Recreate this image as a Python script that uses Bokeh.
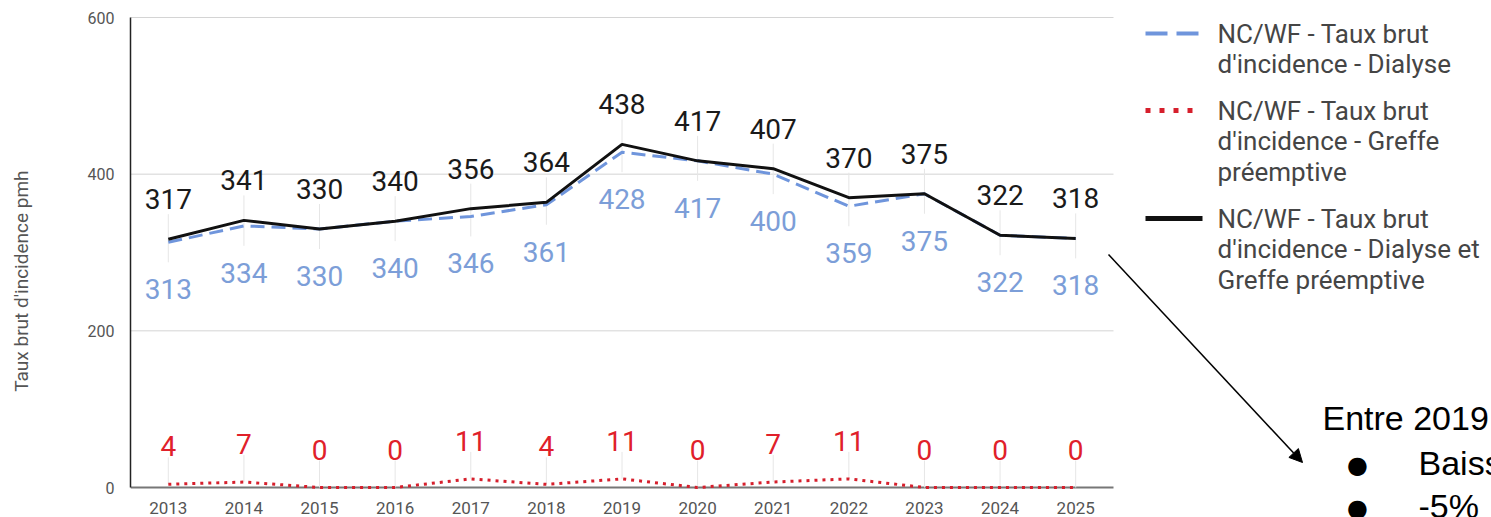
from bokeh.plotting import figure
from bokeh.models import Range1d, FixedTicker, Label, Arrow, NormalHead, LinearAxis
from bokeh.core.properties import value
from bokeh.embed import file_html
from bokeh.resources import INLINE

# ---------------- data ----------------
years = list(range(2013, 2026))
dialyse = [313, 334, 330, 340, 346, 361, 428, 417, 400, 359, 375, 322, 318]
greffe = [4, 7, 0, 0, 11, 4, 11, 0, 7, 11, 0, 0, 0]
total = [317, 341, 330, 340, 356, 364, 438, 417, 407, 370, 375, 322, 318]
y_ticks = [0, 200, 400, 600]
y_title = "Taux brut d'incidence pmh"
legend_dialyse = ["NC/WF - Taux brut", "d'incidence - Dialyse"]
legend_greffe = ["NC/WF - Taux brut", "d'incidence - Greffe", "préemptive"]
legend_total = ["NC/WF - Taux brut", "d'incidence - Dialyse et", "Greffe préemptive"]
note_title = "Entre 2019"
note_items = ["Baisse", "-5%"]

# ---------------- layout ----------------
W, H = 1491, 517
LEFT = 130
PXU = 470 / 600.0                  # px per unit
ZERO_PX = 487                      # image row of y = 0
Y0 = -(H - ZERO_PX) / PXU          # frame reaches the bottom of the canvas
Y1 = 600 + 1 / PXU
TOP = ZERO_PX - round(Y1 * PXU)
X0, XG = 2012.5, 2025.5            # category span (grid extent)
PXY = 983 / 13.0                   # px per year
X1 = X0 + (W - LEFT) / PXY


def rx(px):  # image x pixel -> data x
    return X0 + (px - LEFT) / PXY


def ry(py):  # image y pixel -> data y
    return (ZERO_PX - py) / PXU


BLUE = "#6f95dc"
BLUE_TXT = "#7c9ed8"
RED = "#d61f2c"
RED_TXT = "#e0202a"
BLACK = "#111111"
LEG_TXT = "#454545"

p = figure(width=W, height=H, x_range=Range1d(X0, X1), y_range=Range1d(Y0, Y1),
           output_backend="svg", toolbar_location=None,
           min_border_left=LEFT, min_border_right=0, min_border_top=TOP,
           min_border_bottom=0)
p.outline_line_color = None
p.xgrid.visible = False
p.ygrid.visible = False
p.background_fill_color = "white"

# y axis (ticks) limited to 0..600
p.yaxis.ticker = FixedTicker(ticks=y_ticks)
p.yaxis.bounds = (y_ticks[0], y_ticks[-1])
p.yaxis.minor_tick_line_color = None
p.yaxis.major_tick_line_color = None
p.yaxis.axis_line_color = "#222222"
p.yaxis.axis_line_width = 1.5
p.yaxis.major_label_text_font = "Roboto"
p.yaxis.major_label_text_font_size = "16px"
p.yaxis.major_label_text_color = "#555555"
p.yaxis.major_label_standoff = 10

# separate axis carrying only the title; trailing no-break spaces move the
# centred title a little lower, as in the reference
title_axis = LinearAxis(ticker=FixedTicker(ticks=[]),
                        axis_label=y_title + "\u00a0" * 6,
                        axis_line_color=None,
                        major_tick_line_color=None, minor_tick_line_color=None,
                        major_tick_out=0, minor_tick_out=0,
                        axis_label_text_font="Roboto", axis_label_text_font_size="19px",
                        axis_label_text_font_style="normal",
                        axis_label_text_color="#555555", axis_label_standoff=52)
p.add_layout(title_axis, "left")

# x axis drawn at y = 0 inside the frame
p.xaxis.fixed_location = 0
p.xaxis.ticker = FixedTicker(ticks=years)
p.xaxis.minor_tick_line_color = None
p.xaxis.major_tick_line_color = None
p.xaxis.axis_line_color = None
p.xaxis.major_label_text_font = "Roboto"
p.xaxis.major_label_text_font_size = "17px"
p.xaxis.major_label_text_color = "#555555"
p.xaxis.major_label_standoff = 8

# gridlines limited to the chart area
grid_y = y_ticks[1:]
p.segment(x0=[X0] * len(grid_y), x1=[XG] * len(grid_y), y0=grid_y, y1=grid_y,
          line_color="#d4d4d4", line_width=1)
# x axis baseline
p.segment(x0=[X0], x1=[XG], y0=[0], y1=[0], line_color="#777777", line_width=2)

# leader lines
p.segment(x0=years, x1=years, y0=[t + 25 / PXU for t in total],
          y1=[d - 20 / PXU for d in dialyse], line_color="#e6e6e6", line_width=1)
p.segment(x0=years, x1=years, y0=[g + 27 / PXU for g in greffe], y1=greffe,
          line_color="#e6e6e6", line_width=1)

# series
p.line(years, greffe, line_color=RED, line_width=3, line_dash="3 5")
p.line(years, dialyse, line_color=BLUE, line_width=3, line_dash="14 7")
p.line(years, total, line_color=BLACK, line_width=3)

# value labels
common = dict(text_align="center", text_baseline="middle",
              text_font=value("Roboto"), text_font_size="28px")
p.text(x=years, y=total, text=[str(v) for v in total], y_offset=-40,
       text_color="#1a1a1a", **common)
p.text(x=years, y=dialyse, text=[str(v) for v in dialyse], y_offset=47,
       text_color=BLUE_TXT, **common)
p.text(x=years, y=greffe, text=[str(v) for v in greffe], y_offset=-38,
       text_color=RED_TXT, **common)

# legend (manual, multi-line)
p.segment(x0=[rx(1145)], x1=[rx(1200)], y0=[ry(33)], y1=[ry(33)],
          line_color=BLUE, line_width=4, line_dash="22 9")
p.segment(x0=[rx(1145)], x1=[rx(1200)], y0=[ry(110)], y1=[ry(110)],
          line_color=RED, line_width=5, line_dash="5 9")
p.segment(x0=[rx(1145)], x1=[rx(1202)], y0=[ry(218)], y1=[ry(218)],
          line_color=BLACK, line_width=5)
for lines, top in ((legend_dialyse, 33), (legend_greffe, 110), (legend_total, 218)):
    for i, t in enumerate(lines):
        p.add_layout(Label(x=rx(1217), y=ry(top + 30.5 * i), text=t,
                           text_font="Roboto", text_font_size="26px",
                           text_color=LEG_TXT, text_baseline="middle",
                           text_align="left"))

# annotation arrow + note
p.add_layout(Arrow(end=NormalHead(size=13, fill_color="black", line_color="black",
                                  line_width=1),
                   x_start=rx(1108), y_start=ry(254), x_end=rx(1302), y_end=ry(462),
                   line_color="black", line_width=1.5))
p.add_layout(Label(x=rx(1322), y=ry(417), text=note_title, text_font="Liberation Sans",
                   text_font_size="34px", text_color="black",
                   text_baseline="middle"))
for i, t in enumerate(note_items):
    mid = 462 + 43 * i
    p.add_layout(Label(x=rx(1357), y=ry(mid + 2), text="●", text_font="DejaVu Sans",
                       text_font_size="24px", text_color="black",
                       text_baseline="middle", text_align="center"))
    p.add_layout(Label(x=rx(1418), y=ry(mid), text=t, text_font="Liberation Sans",
                       text_font_size="34px", text_color="black",
                       text_baseline="middle"))

open("out.html", "w").write(file_html(p, INLINE))
